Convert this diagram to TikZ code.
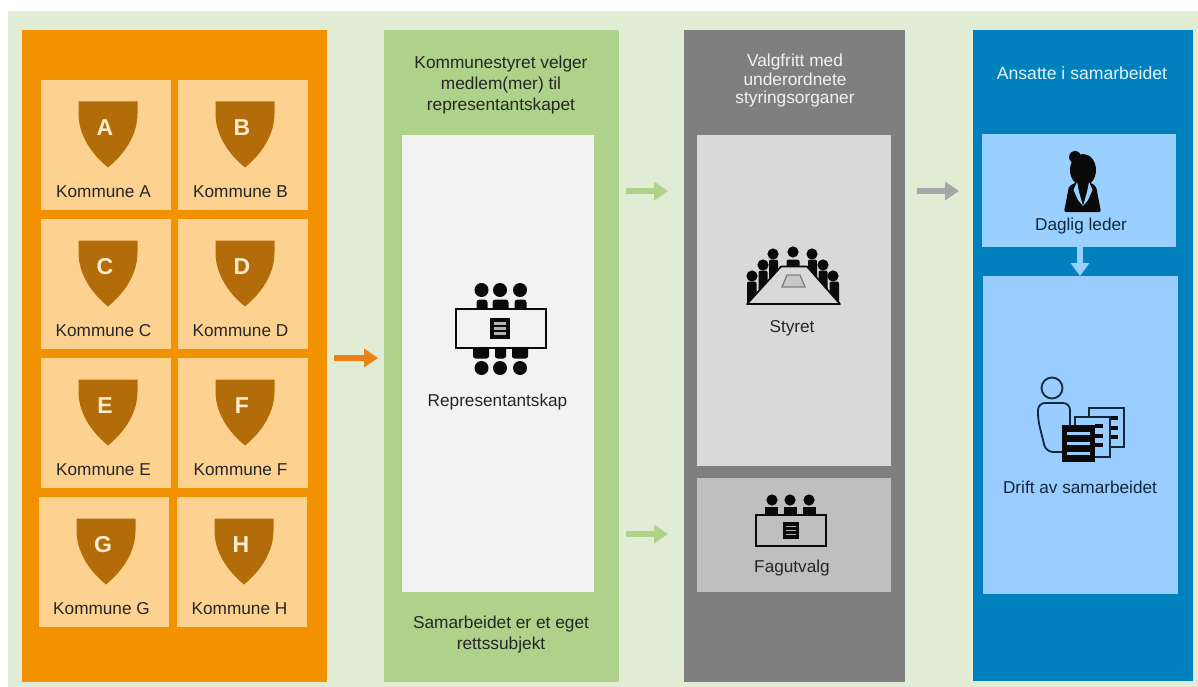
\documentclass[tikz,border=0pt]{standalone}
\usepackage{fontspec}
\setmainfont{Liberation Sans}
\usetikzlibrary{arrows.meta,fit}
\definecolor{bgG}{HTML}{E0EDD4}
\definecolor{orP}{HTML}{F39200}
\definecolor{orC}{HTML}{FDD291}
\definecolor{orS}{HTML}{B26D0A}
\definecolor{orL}{HTML}{FDEBCB}
\definecolor{grP}{HTML}{AFD28B}
\definecolor{wbox}{HTML}{F2F2F2}
\definecolor{gyP}{HTML}{7F7F7F}
\definecolor{gyA}{HTML}{D9D9D9}
\definecolor{gyB}{HTML}{BFBFBF}
\definecolor{blP}{HTML}{0080BC}
\definecolor{blA}{HTML}{99D0FF}
\definecolor{blB}{HTML}{99CCFF}
\definecolor{txt}{HTML}{262626}
\definecolor{ink}{HTML}{0A0A0A}
\definecolor{drk}{HTML}{14283C}
\tikzset{
  x=1pt,y=-1pt,
  panel/.style={inner sep=0pt,outer sep=0pt,fill=#1},
  lab/.style={font=\fontsize{17.2}{20}\selectfont,text=txt,inner sep=0pt,align=center},
  head/.style={lab,text=#1,font=\fontsize{17.3}{18.5}\selectfont},
  flow/.style={draw=#1,line width=5.5pt,-{Triangle[width=18pt,length=14pt,fill=#1]}},
  shieldpic/.pic={
    \fill[orS] (-29.5,0) -- (29.5,0) -- (29.5,12) .. controls (29.5,34) and (16,53) .. (0,66) .. controls (-16,53) and (-29.5,34) .. (-29.5,12) -- cycle;
    \node[inner sep=0pt,text=orL,font=\fontsize{23}{23}\selectfont\bfseries] (-letter) at (-3,26) {#1};
  },
  docpic/.pic={
    \fill[ink] (0,0) rectangle (20,21);
    \foreach \s in {5.5,10.5,15.5} {\fill[gray!60] (4,\s-1.1) rectangle (16,\s+1.1);}
  }
}
\begin{document}
\begin{tikzpicture}
\useasboundingbox (0,0) rectangle (1198,687);
\fill[white] (0,0) rectangle (1198,687);
\fill[bgG] (8,11) rectangle (1198,687);

% panels
\node[panel=orP,fit={(22,30)(327,682)}] (panelA) {};
\node[panel=grP,fit={(384,30)(619,682)}] (panelB) {};
\node[panel=gyP,fit={(684,30)(905,682)}] (panelC) {};
\node[panel=blP,fit={(973,30)(1193,681)}] (panelD) {};

% municipalities
\foreach \L/\cx/\cy in {A/41/80,B/178/80,C/41/219,D/178/219,E/41/358,F/178/358,G/39/497,H/177/497} {
  \node[panel=orC,fit={(\cx,\cy)(\cx+130,\cy+130)}] (cell\L) {};
  \pic (sh\L) at (\cx+67,\cy+21.5) {shieldpic=\L};
  \node[lab] (lab\L) at (\cx+62.5,\cy+112) {Kommune \L};
}

% representantskap
\node[head=txt] (headB) at (501,85) {Kommunestyret velger\\[2.5pt]medlem(mer) til\\[2.5pt]representantskapet};
\node[panel=wbox,fit={(402,135)(594,592)}] (rep) {};
\node[head=txt] (footB) at (501,635) {Samarbeidet er et eget\\[2.5pt]rettssubjekt};
\foreach \x in {481.5,500,520} {\fill[ink] (\x,290) circle (7);}
\foreach \x in {481.5,500,520} {\fill[ink] (\x,368) circle (7);}
\foreach \a/\b in {476.5/487.5,492.5/508.5,514.5/526.5} {\fill[ink,rounded corners=3pt] (\a,299.5) rectangle (\b,312);}
\foreach \a/\b in {473/489,495/506,512/528} {\fill[ink,rounded corners=2.5pt] (\a,345) rectangle (\b,358.5);}
\draw[ink,line width=1.8pt,fill=wbox] (456,309) rectangle (546,348);
\pic at (489.5,318) {docpic};
\node[lab] (repL) at (497.5,402) {Representantskap};

% styret
\node[head=white!90!gray] (headC) at (795,81) {Valgfritt med\\underordnete\\styringsorganer};
\node[panel=gyA,fit={(697,135)(891,466)}] (styr) {};
\node[panel=gyB,fit={(697,478)(891,592)}] (fag) {};
\foreach \x/\y in {752/276,763/265,773/254,793/252,812/254,823/265,833/276} {\fill[ink] (\x,\y) circle (5.6);}
\foreach \a/\b/\t in {747/756.5/281.5,758.5/767.5/270.5,769/778/259.5,786.5/799.5/259.5,808/817/259.5,818.5/827.5/270.5,829.5/839/281.5} {\fill[ink,rounded corners=2pt] (\a,\t) rectangle (\b,304);}
\draw[ink,line width=1.7pt,fill=gyA,line join=round] (781,266.5) -- (807,266.5) -- (840,304) -- (747,304) -- cycle;
\draw[gray,line width=1.3pt,fill=gyA!80!gray] (787,275) -- (800,275) -- (805,287) -- (782,287) -- cycle;
\node[lab] (styrL) at (792,328) {Styret};

% fagutvalg
\foreach \x in {772,790,809} {\fill[ink] (\x,500) circle (5.6);}
\foreach \a/\b in {765/778,784/797,803/816} {\fill[ink] (\a,507) rectangle (\b,516);}
\draw[ink,line width=1.5pt,fill=gyB] (756,515) rectangle (826,546);
\pic[scale=.8] at (783,522) {docpic};
\node[lab] (fagL) at (792,568) {Fagutvalg};

% ansatte
\node[head=white!88!cyan,font=\fontsize{17.6}{18.5}\selectfont] (headD) at (1082,73) {Ansatte i samarbeidet};
\node[panel=blA,fit={(982,134)(1176,247)}] (leder) {};
\node[panel=blB,fit={(983,276)(1178,594)}] (drift) {};
% daglig leder icon
\fill[ink] (1083,170) ellipse (13 and 16);
\fill[ink] (1075,157) circle (6);
\fill[ink,rounded corners=2pt] (1064,212) -- (1069,186) -- (1077,182) -- (1089,182) -- (1096,186) -- (1101,212) -- cycle;
\fill[blA] (1077,182) -- (1073.5,190) -- (1078,200) -- (1083,206) -- (1079,192) -- cycle;
\fill[blA] (1089,182) -- (1092.5,190) -- (1088,200) -- (1083,206) -- (1087,192) -- cycle;
\node[lab,text=drk] (lederL) at (1081,226) {Daglig leder};
% drift icon
\draw[drk,line width=1.8pt] (1052,388) circle (10.5);
\draw[drk,line width=1.8pt,fill=blB,rounded corners=7pt] (1070,452) -- (1046,452) -- (1038,420) -- (1038,403) -- (1070,403) -- (1070,452);
\draw[drk,line width=1.8pt,fill=blB] (1089,408) rectangle (1124,447);
\foreach \y in {418,428,437} {\fill[ink] (1110,\y-1.6) rectangle (1118,\y+1.6);}
\draw[drk,line width=1.8pt,fill=blB] (1075,417) rectangle (1110,457);
\foreach \y in {426,436,445} {\fill[ink] (1095,\y-1.6) rectangle (1103,\y+1.6);}
\fill[ink] (1062,425) rectangle (1095,462);
\foreach \y in {433,443,453} {\fill[blB] (1067,\y-1.5) rectangle (1090,\y+1.5);}
\node[lab,text=drk] (driftL) at (1080,487) {Drift av samarbeidet};

% connectors
\coordinate (ya) at (0,358);
\coordinate (yb) at (0,191);
\coordinate (yc) at (0,534);
\coordinate (xd) at (1080,0);
\draw[flow={orange!85!gray},shorten <=7pt,shorten >=6pt] (panelA.east |- ya) -- (panelB.west |- ya);
\draw[flow=grP,shorten <=7pt,shorten >=16pt] (panelB.east |- yb) -- (panelC.west |- yb);
\draw[flow=grP,shorten <=7pt,shorten >=16pt] (panelB.east |- yc) -- (panelC.west |- yc);
\draw[flow={gray!70},shorten <=12pt,shorten >=14pt] (panelC.east |- yb) -- (panelD.west |- yb);
\draw[draw=blA,line width=6.5pt,-{Triangle[width=18pt,length=13pt,fill=blA]}] (leder.south -| xd) -- (drift.north -| xd);
\end{tikzpicture}
\end{document}
